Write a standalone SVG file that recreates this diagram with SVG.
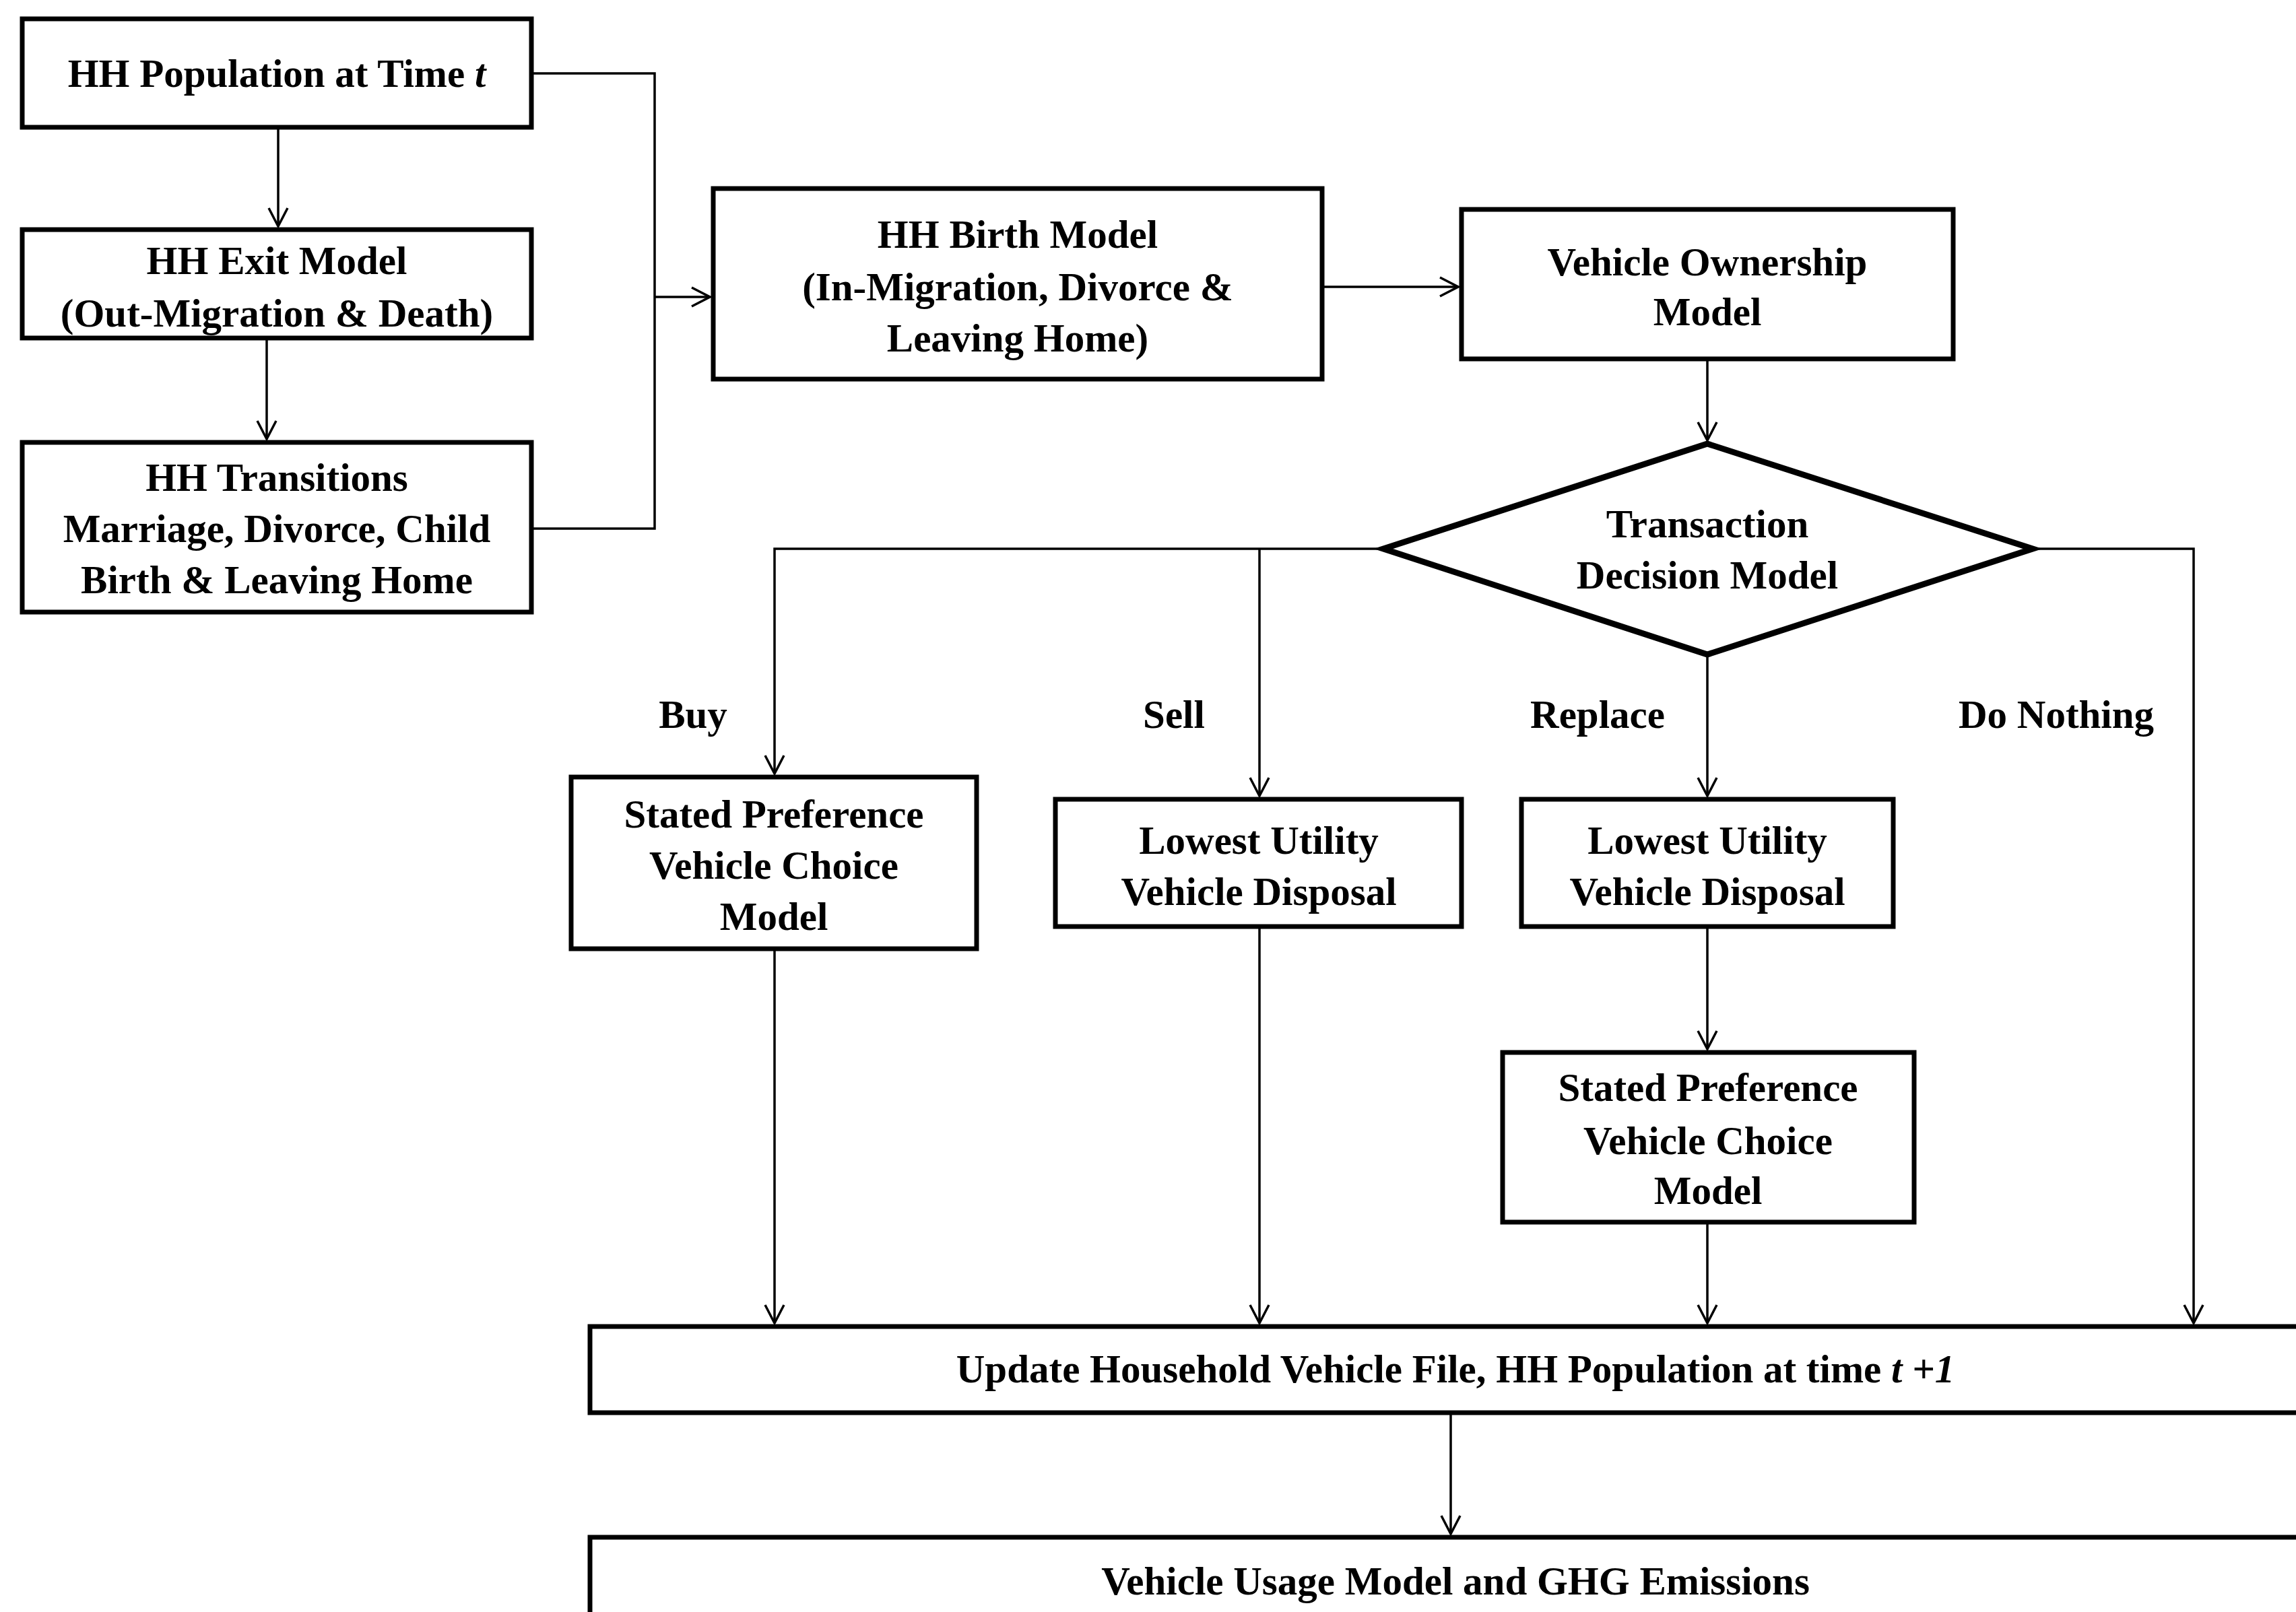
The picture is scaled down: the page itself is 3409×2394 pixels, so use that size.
<svg xmlns="http://www.w3.org/2000/svg" width="3409" height="2394" viewBox="0 0 3409 2394">
<defs>
<marker id="arr" markerUnits="userSpaceOnUse" markerWidth="32" markerHeight="34" viewBox="0 0 32 34" refX="29" refY="17" orient="auto">
<path d="M2,3 L29,17 L2,31" fill="none" stroke="#000" stroke-width="3.5"/>
</marker>
</defs>
<style>
.box{fill:#fff;stroke:#000;stroke-width:7}
.dia{fill:#fff;stroke:#000;stroke-width:9;stroke-linejoin:miter}
.t{font-family:"Liberation Serif","Times New Roman",serif;font-weight:bold;font-size:59px;fill:#000;text-anchor:middle}
.c{fill:none;stroke:#000;stroke-width:3.5}
.a{marker-end:url(#arr)}
</style>
<rect width="3409" height="2394" fill="#fff"/>
<g id="connectors">
<path class="c a" d="M413,189 V336"/>
<path class="c a" d="M396,502 V652"/>
<path class="c" d="M789,109 H972 V785 H789"/>
<path class="c a" d="M972,441 H1054"/>
<path class="c a" d="M1963,426 H2165"/>
<path class="c a" d="M2535,533 V654"/>
<path class="c a" d="M2054,815 H1150 V1149"/>
<path class="c a" d="M1870,815 V1182"/>
<path class="c a" d="M2535,972 V1182"/>
<path class="c a" d="M3018,815 H3257 V1965"/>
<path class="c a" d="M2535,1376 V1558"/>
<path class="c a" d="M1150,1409 V1965"/>
<path class="c a" d="M1870,1376 V1965"/>
<path class="c a" d="M2535,1815 V1965"/>
<path class="c a" d="M2154,2098 V2278"/>
</g>
<g id="n1"><rect class="box" x="33" y="28" width="756" height="161"/><text class="t" x="411" y="129">HH Population at Time <tspan font-style="italic">t</tspan></text></g>
<g id="n2"><rect class="box" x="33" y="341" width="756" height="161"/><text class="t" x="411" y="407">HH Exit Model</text><text class="t" x="411" y="485">(Out-Migration &amp; Death)</text></g>
<g id="n3"><rect class="box" x="33" y="657" width="756" height="252"/><text class="t" x="411" y="729">HH Transitions</text><text class="t" x="411" y="805">Marriage, Divorce, Child</text><text class="t" x="411" y="881">Birth &amp; Leaving Home</text></g>
<g id="n4"><rect class="box" x="1059" y="280" width="904" height="283"/><text class="t" x="1511" y="368">HH Birth Model</text><text class="t" x="1511" y="446">(In-Migration, Divorce &amp;</text><text class="t" x="1511" y="522">Leaving Home)</text></g>
<g id="n5"><rect class="box" x="2170" y="311" width="730" height="222"/><text class="t" x="2535" y="409">Vehicle Ownership</text><text class="t" x="2535" y="483">Model</text></g>
<g id="n6"><polygon class="dia" points="2535,659 3018,815 2535,972 2054,815"/><text class="t" x="2535" y="798">Transaction</text><text class="t" x="2535" y="874">Decision Model</text></g>
<g id="n7"><rect class="box" x="848" y="1154" width="602" height="255"/><text class="t" x="1149" y="1229">Stated Preference</text><text class="t" x="1149" y="1305">Vehicle Choice</text><text class="t" x="1149" y="1381">Model</text></g>
<g id="n8"><rect class="box" x="1567" y="1187" width="603" height="189"/><text class="t" x="1869" y="1268">Lowest Utility</text><text class="t" x="1869" y="1344">Vehicle Disposal</text></g>
<g id="n9"><rect class="box" x="2259" y="1187" width="552" height="189"/><text class="t" x="2535" y="1268">Lowest Utility</text><text class="t" x="2535" y="1344">Vehicle Disposal</text></g>
<g id="n10"><rect class="box" x="2231" y="1563" width="611" height="252"/><text class="t" x="2536" y="1635">Stated Preference</text><text class="t" x="2536" y="1714">Vehicle Choice</text><text class="t" x="2536" y="1788">Model</text></g>
<g id="n11"><rect class="box" x="876" y="1970" width="2600" height="128"/><text class="t" x="2161" y="2053">Update Household Vehicle File, HH Population at time <tspan font-style="italic">t +1</tspan></text></g>
<g id="n12"><rect class="box" x="876" y="2283" width="2600" height="200"/><text class="t" x="2161" y="2368">Vehicle Usage Model and GHG Emissions</text></g>
<g id="labels">
<text class="t" x="1029" y="1081">Buy</text>
<text class="t" x="1743" y="1081">Sell</text>
<text class="t" x="2372" y="1081">Replace</text>
<text class="t" x="3053" y="1081">Do Nothing</text>
</g>
</svg>
